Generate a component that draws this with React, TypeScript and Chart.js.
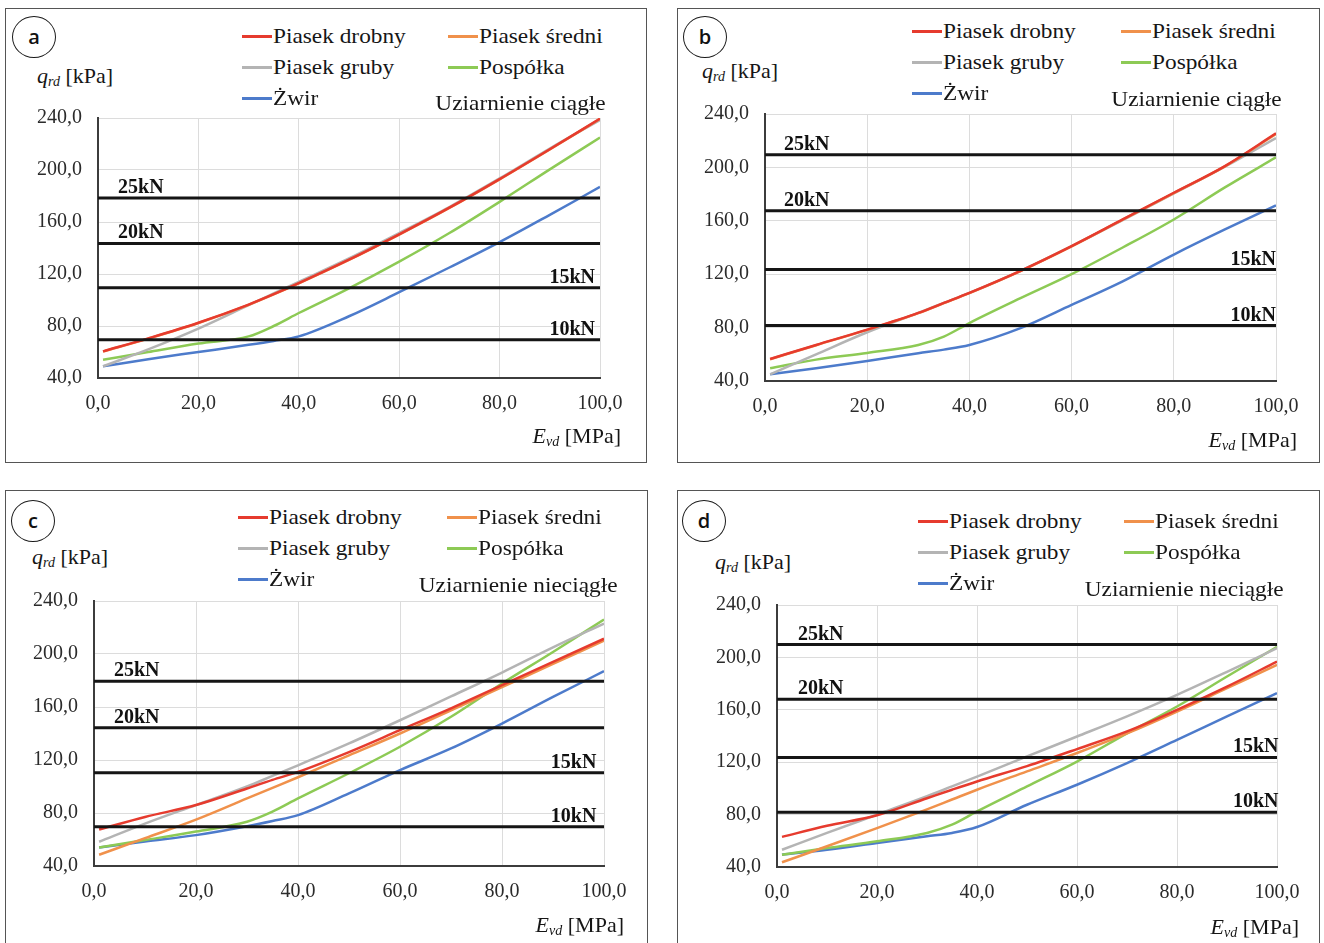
import React, { useEffect, useRef } from 'react';
import { Chart, registerables } from 'chart.js';

Chart.register(...registerables);

const SERIF = '"Liberation Serif", "Times New Roman", serif';

// ---------- data ----------
const E_VALUES = [1, 10, 20, 30, 35, 40, 50, 60, 70, 80, 90, 100];
const X_TICKS = [0, 20, 40, 60, 80, 100];
const Y_TICKS = [40, 80, 120, 160, 200, 240];
const KN_LABELS = ['25kN', '20kN', '15kN', '10kN'];
const SERIES_NAMES = ['Piasek drobny', 'Piasek średni', 'Piasek gruby', 'Pospółka', 'Żwir'];
const SERIES_COLORS = ['#e63b2e', '#f0914b', '#b4b4b4', '#8dca55', '#4d7bcb'];
const PANEL_LETTERS = ['a', 'b', 'c', 'd'];
const GRADING = ['Uziarnienie ciągłe', 'Uziarnienie ciągłe', 'Uziarnienie nieciągłe', 'Uziarnienie nieciągłe'];

// panel a
const A_DROBNY = [60.5, 70.5, 82.5, 96.5, 104.5, 113, 131, 150.5, 171, 193, 216, 239.5];
const A_SREDNI = [60.3, 70.3, 82.3, 96.3, 104.3, 112.8, 130.8, 150.3, 170.8, 192.8, 215.8, 239.3];
const A_GRUBY = [49, 62, 78, 96, 105, 114, 132, 151.5, 171.5, 193.5, 216.5, 238.5];
const A_POSPOLKA = [54, 60, 66.5, 72, 80, 90, 109, 129.5, 151.5, 175.5, 200.5, 225];
const A_ZWIR = [49, 54.5, 60, 65.5, 68.5, 72, 87.5, 106, 125, 144.5, 165.5, 187];
const KN_A = [178.5, 143.5, 109.5, 69.5];

// panel b
const B_DROBNY = [56.5, 67, 78.5, 91, 98.5, 106, 122.5, 141, 161, 181, 201, 225.5];
const B_SREDNI = [56.3, 66.8, 78.3, 90.8, 98.3, 105.8, 122.3, 140.8, 160.8, 180.8, 200.8, 225];
const B_GRUBY = [45, 60, 76.5, 91, 98.5, 106, 122.5, 141, 160.5, 180.5, 200.5, 222];
const B_POSPOLKA = [49.5, 56, 61, 67, 73.3, 83.4, 102, 120, 140, 161, 185, 207.5];
const B_ZWIR = [45, 49.5, 55, 60.8, 63.5, 67, 79.6, 97, 114.7, 134.7, 153.5, 171.5];
const KN_B = [209.5, 167.5, 123.5, 81.5];

// panel c
const C_DROBNY = [67.5, 77, 86, 98.5, 105, 111, 126, 142.5, 159, 176.5, 194, 211.5];
const C_SREDNI = [48.5, 61, 75, 91, 99, 107, 123.5, 140, 157.5, 175, 192.5, 210];
const C_GRUBY = [58.3, 72, 86, 100, 108, 116, 132.5, 150, 168, 186, 205, 223];
const C_POSPOLKA = [54, 59.6, 66, 73.4, 81, 91, 110, 130, 152.6, 177.7, 201.5, 226];
const C_ZWIR = [54, 58.5, 63.3, 70, 74, 78.4, 94.8, 112.4, 128.7, 147.5, 167.6, 187];
const KN_C = [179.5, 144.3, 110.3, 69.6];

// panel d
const D_DROBNY = [63, 71.5, 79.5, 92.5, 99, 105.3, 117, 130, 143.5, 160, 177.7, 196.8];
const D_SREDNI = [43.6, 55.8, 69.7, 84, 91.5, 99, 113, 127, 142, 158.7, 176.5, 194.3];
const D_GRUBY = [53.2, 66, 80, 94, 101.5, 109, 124.4, 139.6, 155, 171.4, 189, 207];
const D_POSPOLKA = [49.4, 54.5, 59.6, 66, 72.3, 82.4, 101.5, 120.5, 142, 162.5, 185.4, 208];
const D_ZWIR = [49.4, 53.2, 58.3, 63.4, 66, 70.5, 87.5, 102.8, 119.3, 137, 154.9, 172.7];
const KN_D = [209.8, 168.1, 123.6, 81.7];

const PANEL_SERIES = [
  [A_DROBNY, A_SREDNI, A_GRUBY, A_POSPOLKA, A_ZWIR],
  [B_DROBNY, B_SREDNI, B_GRUBY, B_POSPOLKA, B_ZWIR],
  [C_DROBNY, C_SREDNI, C_GRUBY, C_POSPOLKA, C_ZWIR],
  [D_DROBNY, D_SREDNI, D_GRUBY, D_POSPOLKA, D_ZWIR],
];
const PANEL_KN = [KN_A, KN_B, KN_C, KN_D];

// ---------- layout (page px) ----------
type Geom = {
  box: [number, number, number, number];
  plot: [number, number, number, number];
  circle: [number, number];
  legX: [number, number];
  legY: [number, number, number];
  grading: [number, number];
  yTitle: [number, number];
  xTitle: [number, number];
  leftE: number;
  rightE: number;
};

const GEOMS: Geom[] = [
  { box: [5, 8, 647, 463], plot: [98, 118, 600, 378], circle: [34, 37], legX: [242, 448], legY: [36, 67, 98], grading: [606, 103], yTitle: [37, 77], xTitle: [621, 437], leftE: 4, rightE: 99 },
  { box: [677, 8, 1320, 463], plot: [765, 114, 1276, 381], circle: [705, 37], legX: [912, 1121], legY: [31, 62, 93], grading: [1282, 99], yTitle: [702, 72], xTitle: [1297, 441], leftE: 3.7, rightE: 100 },
  { box: [5, 490, 648, 960], plot: [94, 601, 604, 866], circle: [33, 521], legX: [238, 447], legY: [517, 548, 579], grading: [618, 585], yTitle: [32, 558], xTitle: [624, 926], leftE: 3.9, rightE: 98.5 },
  { box: [677, 490, 1320, 960], plot: [777, 605, 1277, 867], circle: [704, 521], legX: [918, 1124], legY: [521, 552, 583], grading: [1284, 589], yTitle: [715, 563], xTitle: [1299, 928], leftE: 4.2, rightE: 100.3 },
];

const PAD_L = 90;
const PAD_T = 20;
const PAD_R = 36;
const PAD_B = 60;

const fmt = (v: number | string) => Number(v).toFixed(1).replace('.', ',');

const knLabelPlugin = {
  id: 'knLabels',
  afterDatasetsDraw(chart: any, _args: any, opts: any) {
    const { ctx } = chart;
    const x = chart.scales.x;
    const y = chart.scales.y;
    ctx.save();
    ctx.font = `bold 20px ${SERIF}`;
    ctx.fillStyle = '#111';
    ctx.textBaseline = 'alphabetic';
    (opts.values as number[]).forEach((v, i) => {
      const py = y.getPixelForValue(v) - 5;
      if (i < 2) {
        ctx.textAlign = 'left';
        ctx.fillText(KN_LABELS[i], x.getPixelForValue(opts.leftE), py);
      } else {
        ctx.textAlign = 'right';
        ctx.fillText(KN_LABELS[i], x.getPixelForValue(opts.rightE), py);
      }
    });
    ctx.restore();
  },
};

const noPad = (s: any) => {
  s.paddingLeft = 0;
  s.paddingRight = 0;
  s.paddingTop = 0;
  s.paddingBottom = 0;
};

function PanelChart({ idx }: { idx: number }) {
  const ref = useRef<HTMLCanvasElement>(null);
  const g = GEOMS[idx];
  const plotW = g.plot[2] - g.plot[0];
  const plotH = g.plot[3] - g.plot[1];
  const cw = plotW + PAD_L + PAD_R;
  const ch = plotH + PAD_T + PAD_B;

  useEffect(() => {
    if (!ref.current) return;
    const tickFont = { family: SERIF, size: 20 };
    const knSets = PANEL_KN[idx].map((v, i) => ({
      label: KN_LABELS[i],
      data: [
        { x: X_TICKS[0], y: v },
        { x: X_TICKS[X_TICKS.length - 1], y: v },
      ],
      borderColor: '#151515',
      borderWidth: 3,
      pointRadius: 0,
      showLine: true,
      order: 0,
    }));
    const curveSets = PANEL_SERIES[idx].map((vals, i) => ({
      label: SERIES_NAMES[i],
      data: E_VALUES.map((e, j) => ({ x: e, y: vals[j] })),
      borderColor: SERIES_COLORS[i],
      backgroundColor: SERIES_COLORS[i],
      borderWidth: 2.5,
      pointRadius: 0,
      showLine: true,
      cubicInterpolationMode: 'monotone' as const,
      order: i + 1,
    }));
    const chart = new Chart(ref.current, {
      type: 'scatter',
      data: { datasets: [...knSets, ...curveSets] as any },
      plugins: [knLabelPlugin as any],
      options: {
        animation: false,
        responsive: false,
        maintainAspectRatio: false,
        layout: { padding: { left: 0, top: PAD_T, right: PAD_R, bottom: 0 } },
        plugins: {
          legend: { display: false },
          tooltip: { enabled: false },
          knLabels: { values: PANEL_KN[idx], leftE: g.leftE, rightE: g.rightE },
        } as any,
        scales: {
          x: {
            type: 'linear',
            min: X_TICKS[0],
            max: X_TICKS[X_TICKS.length - 1],
            afterBuildTicks: (s: any) => {
              s.ticks = X_TICKS.map((v) => ({ value: v }));
            },
            afterFit: (s: any) => {
              s.height = PAD_B;
              noPad(s);
            },
            ticks: {
              padding: 14,
              font: tickFont,
              color: '#2b2b2b',
              maxRotation: 0,
              autoSkip: false,
              callback: (v: any) => fmt(v),
            },
            grid: { color: '#dcdcdc', lineWidth: 1, drawTicks: false },
            border: { display: true, color: '#3c3c3c', width: 2 },
          },
          y: {
            type: 'linear',
            min: Y_TICKS[0],
            max: Y_TICKS[Y_TICKS.length - 1],
            afterBuildTicks: (s: any) => {
              s.ticks = Y_TICKS.map((v) => ({ value: v }));
            },
            afterFit: (s: any) => {
              s.width = PAD_L;
              noPad(s);
            },
            ticks: {
              padding: 16,
              font: tickFont,
              color: '#2b2b2b',
              autoSkip: false,
              callback: (v: any) => fmt(v),
            },
            grid: { color: '#dcdcdc', lineWidth: 1, drawTicks: false },
            border: { display: true, color: '#3c3c3c', width: 2 },
          },
        },
      } as any,
    });
    return () => chart.destroy();
  }, [idx]);

  return (
    <canvas
      ref={ref}
      width={cw}
      height={ch}
      style={{ position: 'absolute', left: g.plot[0] - PAD_L, top: g.plot[1] - PAD_T, width: cw, height: ch }}
    />
  );
}

const textBase: React.CSSProperties = {
  position: 'absolute',
  fontFamily: SERIF,
  color: '#161616',
  whiteSpace: 'nowrap',
  lineHeight: 1,
};

function Panel({ idx }: { idx: number }) {
  const g = GEOMS[idx];
  const legendPos = [
    [0, 0],
    [1, 0],
    [0, 1],
    [1, 1],
    [0, 2],
  ];
  return (
    <>
      <div
        style={{
          position: 'absolute',
          left: g.box[0],
          top: g.box[1],
          width: g.box[2] - g.box[0],
          height: g.box[3] - g.box[1],
          border: '1px solid #555',
          boxSizing: 'border-box',
        }}
      />
      <PanelChart idx={idx} />
      <div
        style={{
          position: 'absolute',
          left: g.circle[0] - 22,
          top: g.circle[1] - 21,
          width: 44,
          height: 42,
          border: '1.5px solid #1a1a1a',
          borderRadius: '50%',
          boxSizing: 'border-box',
          display: 'flex',
          alignItems: 'center',
          justifyContent: 'center',
          fontFamily: '"Open Sans", sans-serif',
          fontWeight: 600,
          fontSize: 20,
          color: '#111',
          lineHeight: 1,
        }}
      >
        {PANEL_LETTERS[idx]}
      </div>
      {SERIES_NAMES.map((name, i) => {
        const [c, r] = legendPos[i];
        const lx = g.legX[c];
        const ly = g.legY[r];
        return (
          <React.Fragment key={name}>
            <div
              style={{
                position: 'absolute',
                left: lx,
                top: ly - 1.5,
                width: 30,
                height: 3,
                background: SERIES_COLORS[i],
              }}
            />
            <div
              style={{
                ...textBase,
                left: lx + 31,
                top: ly,
                fontSize: 22,
                transform: 'translateY(-50%) scaleX(1.06)',
                transformOrigin: 'left center',
              }}
            >
              {name}
            </div>
          </React.Fragment>
        );
      })}
      <div
        style={{
          ...textBase,
          right: 1324 - g.grading[0],
          top: g.grading[1],
          fontSize: 22,
          transform: 'translateY(-50%) scaleX(1.06)',
          transformOrigin: 'right center',
        }}
      >
        {GRADING[idx]}
      </div>
      <div style={{ ...textBase, left: g.yTitle[0], top: g.yTitle[1], fontSize: 22, transform: 'translateY(-50%)' }}>
        <i>q</i>
        <sub style={{ fontSize: 14, fontStyle: 'italic', verticalAlign: '-0.25em' }}>rd</sub> [kPa]
      </div>
      <div
        style={{
          ...textBase,
          right: 1324 - g.xTitle[0],
          top: g.xTitle[1],
          fontSize: 22,
          transform: 'translateY(-50%)',
        }}
      >
        <i>E</i>
        <sub style={{ fontSize: 14, fontStyle: 'italic', verticalAlign: '-0.25em' }}>vd</sub> [MPa]
      </div>
    </>
  );
}

export default function App() {
  return (
    <div
      style={{
        position: 'absolute',
        left: 0,
        top: 0,
        width: 1324,
        height: 943,
        overflow: 'hidden',
        background: '#fff',
      }}
    >
      {[0, 1, 2, 3].map((i) => (
        <Panel key={i} idx={i} />
      ))}
    </div>
  );
}
